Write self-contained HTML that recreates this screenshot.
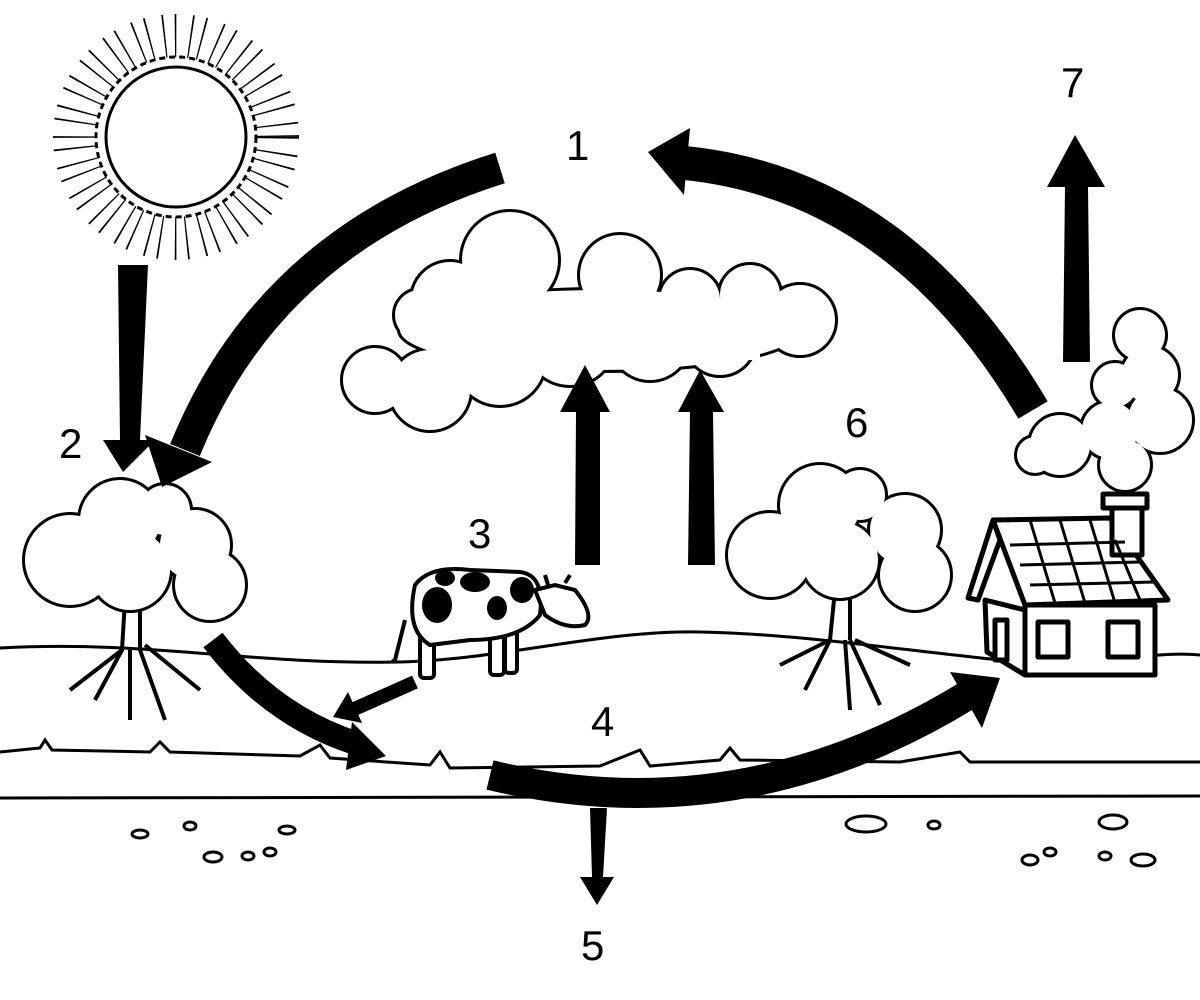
<!DOCTYPE html>
<html><head><meta charset="utf-8"><style>
html,body{margin:0;padding:0;background:#fff;width:1200px;height:1000px;overflow:hidden}
text{font-family:"Liberation Sans",sans-serif;font-size:42px;fill:#000}
</style></head><body>
<svg width="1200" height="1000" viewBox="0 0 1200 1000" xmlns="http://www.w3.org/2000/svg">
<!-- Sun -->
<circle cx="176" cy="137" r="95" fill="none" stroke="#000" stroke-width="56" stroke-dasharray="1.4 13 1.4 9"/>
<circle cx="176" cy="137" r="80" fill="#fff" stroke="#000" stroke-width="3" stroke-dasharray="6 4"/>
<circle cx="176" cy="137" r="70" fill="#fff" stroke="#000" stroke-width="3"/>

<!-- Ground lines -->
<path d="M0,648 C150,640 250,665 400,662 C500,660 600,630 700,632 C800,634 900,650 1000,660 C1100,668 1150,650 1200,655" fill="none" stroke="#000" stroke-width="3"/>
<path d="M0,752 L40,748 L45,740 L52,750 L150,752 L160,742 L170,752 L300,756 L320,745 L330,758 L430,765 L440,752 L450,768 L600,766 L640,750 L650,766 L720,760 L730,748 L740,760 L900,762 L960,752 L970,762 L1200,762" fill="none" stroke="#000" stroke-width="3"/>
<line x1="0" y1="798" x2="1200" y2="796" stroke="#000" stroke-width="3"/>
<g fill="none" stroke="#000" stroke-width="3">
<ellipse cx="140" cy="834" rx="8" ry="4"/><ellipse cx="190" cy="826" rx="6" ry="4"/><ellipse cx="287" cy="830" rx="8" ry="4"/>
<ellipse cx="213" cy="857" rx="9" ry="5"/><ellipse cx="248" cy="856" rx="6" ry="4"/><ellipse cx="270" cy="852" rx="6" ry="4"/>
<ellipse cx="866" cy="824" rx="20" ry="8"/><ellipse cx="934" cy="825" rx="6" ry="4"/><ellipse cx="1113" cy="822" rx="14" ry="7"/>
<ellipse cx="1030" cy="860" rx="8" ry="5"/><ellipse cx="1050" cy="852" rx="6" ry="4"/><ellipse cx="1105" cy="856" rx="6" ry="4"/><ellipse cx="1143" cy="860" rx="12" ry="6"/>
</g>

<!-- Cloud -->
<g stroke="#000" stroke-width="6" fill="#000">
<circle cx="510" cy="260" r="48"/><circle cx="450" cy="300" r="38"/><circle cx="420" cy="315" r="25"/><circle cx="620" cy="275" r="40"/>
<circle cx="690" cy="300" r="30"/><circle cx="750" cy="295" r="30"/><circle cx="800" cy="320" r="35"/><circle cx="375" cy="380" r="32"/>
<circle cx="430" cy="390" r="40"/><circle cx="500" cy="360" r="45"/><circle cx="570" cy="340" r="45"/><circle cx="650" cy="340" r="40"/><circle cx="720" cy="340" r="35"/>
<ellipse cx="600" cy="330" rx="200" ry="40"/>
</g>
<g fill="#fff">
<circle cx="510" cy="260" r="48"/><circle cx="450" cy="300" r="38"/><circle cx="420" cy="315" r="25"/><circle cx="620" cy="275" r="40"/>
<circle cx="690" cy="300" r="30"/><circle cx="750" cy="295" r="30"/><circle cx="800" cy="320" r="35"/><circle cx="375" cy="380" r="32"/>
<circle cx="430" cy="390" r="40"/><circle cx="500" cy="360" r="45"/><circle cx="570" cy="340" r="45"/><circle cx="650" cy="340" r="40"/><circle cx="720" cy="340" r="35"/>
<ellipse cx="600" cy="330" rx="200" ry="40"/>
<rect x="440" y="320" width="320" height="40"/>
</g>

<!-- Smoke -->
<g stroke="#000" stroke-width="6" fill="#000">
<circle cx="1140" cy="335" r="25"/><circle cx="1150" cy="375" r="28"/><circle cx="1115" cy="385" r="22"/><circle cx="1160" cy="420" r="32"/>
<circle cx="1110" cy="430" r="28"/><circle cx="1060" cy="445" r="30"/><circle cx="1035" cy="455" r="18"/><circle cx="1125" cy="465" r="25"/>
</g>
<g fill="#fff">
<circle cx="1140" cy="335" r="25"/><circle cx="1150" cy="375" r="28"/><circle cx="1115" cy="385" r="22"/><circle cx="1160" cy="420" r="32"/>
<circle cx="1110" cy="430" r="28"/><circle cx="1060" cy="445" r="30"/><circle cx="1035" cy="455" r="18"/><circle cx="1125" cy="465" r="25"/>
</g>

<!-- Tree 2 -->
<g fill="none" stroke="#000" stroke-width="4">
<path d="M125,600 L122,650 L70,690 M122,650 L95,700 M130,650 L130,720 M140,650 L165,720 M145,645 L200,690 M140,600 L140,650"/>
</g>
<g stroke="#000" stroke-width="6" fill="#000">
<circle cx="120" cy="520" r="40"/><circle cx="70" cy="560" r="45"/><circle cx="130" cy="570" r="40"/><circle cx="195" cy="545" r="35"/><circle cx="210" cy="585" r="35"/><circle cx="165" cy="510" r="25"/>
</g>
<g fill="#fff">
<circle cx="120" cy="520" r="40"/><circle cx="70" cy="560" r="45"/><circle cx="130" cy="570" r="40"/><circle cx="195" cy="545" r="35"/><circle cx="210" cy="585" r="35"/><circle cx="165" cy="510" r="25"/>
</g>
<!-- Tree 6 -->
<g fill="none" stroke="#000" stroke-width="4">
<path d="M835,590 L830,640 L780,665 M830,640 L805,690 M845,640 L850,710 M850,640 L880,705 M855,640 L910,665 M850,590 L850,640"/>
</g>
<g stroke="#000" stroke-width="6" fill="#000">
<circle cx="820" cy="505" r="40"/><circle cx="770" cy="555" r="42"/><circle cx="840" cy="560" r="38"/><circle cx="905" cy="530" r="35"/><circle cx="915" cy="575" r="35"/><circle cx="860" cy="495" r="25"/>
</g>
<g fill="#fff">
<circle cx="820" cy="505" r="40"/><circle cx="770" cy="555" r="42"/><circle cx="840" cy="560" r="38"/><circle cx="905" cy="530" r="35"/><circle cx="915" cy="575" r="35"/><circle cx="860" cy="495" r="25"/>
</g>

<!-- Cow -->
<g stroke="#000" stroke-width="4" fill="#fff">
<path d="M405,620 L395,660 L392,662" fill="none"/>
<rect x="420" y="630" width="14" height="48" rx="4"/><rect x="490" y="630" width="14" height="45" rx="4"/><rect x="505" y="625" width="12" height="48" rx="4"/>
<path d="M415,585 Q430,565 470,570 L520,572 Q545,575 540,615 Q520,640 470,640 L430,645 Q405,630 415,585 Z"/>
<path d="M535,590 L555,585 L575,590 Q595,615 585,625 Q565,630 545,615 Z"/>
<path d="M548,585 L545,575 M565,583 L570,575" />
</g>
<g fill="#000">
<ellipse cx="445" cy="578" rx="10" ry="8"/><ellipse cx="475" cy="582" rx="15" ry="10"/><ellipse cx="437" cy="605" rx="15" ry="18"/><ellipse cx="497" cy="608" rx="10" ry="12"/><ellipse cx="522" cy="590" rx="12" ry="13"/>
</g>

<!-- House -->
<g stroke="#000" stroke-width="5" fill="#fff" stroke-linejoin="round">
<polygon points="985,600 1025,610 1025,675 987,652"/>
<rect x="1025" y="605" width="130" height="70"/>
<polygon points="993,520 1110,518 1168,600 1025,605"/>
<polygon points="993,520 968,598 978,600 1000,540"/>
<rect x="1038" y="622" width="30" height="35"/><rect x="1108" y="622" width="30" height="35"/>
<rect x="995" y="620" width="12" height="40"/>
<rect x="1112" y="505" width="30" height="50"/><rect x="1103" y="494" width="44" height="14"/>
</g>
<g stroke="#000" stroke-width="3" fill="none">
<path d="M1010,545 L1125,542 M1020,565 L1140,562 M1030,585 L1155,582 M1030,520 L1055,603 M1060,520 L1085,603 M1090,520 L1115,603 M1115,540 L1140,600"/>
</g>

<!-- Arrows -->
<g fill="#000" stroke="none">
<polygon points="118,265 148,265 140,440 155,440 123,472 103,440 120,440"/>
<polygon points="1063,362 1090,362 1088,187 1105,187 1075,135 1047,187 1065,187"/>
<polygon points="575,565 600,565 600,412 610,412 585,365 560,412 576,412"/>
<polygon points="688,565 715,565 713,412 724,412 700,370 678,412 690,412"/>
<polygon points="590,808 607,808 603,877 614,877 597,905 580,877 592,877"/>
</g>
<g fill="none" stroke="#000">
<path d="M500,168 Q270,240 185,450" stroke-width="32"/>
<path d="M1033,410 Q900,185 685,163" stroke-width="34"/>
<path d="M490,775 Q740,835 968,695" stroke-width="30"/>
<path d="M213,640 Q270,715 355,743" stroke-width="24"/>
<path d="M415,682 L352,710" stroke-width="14"/>
</g>
<g fill="#000">
<polygon points="162,487 145,435 212,462"/>
<polygon points="648,152 690,128 684,195"/>
<polygon points="1000,678 950,672 982,728"/>
<polygon points="386,756 352,722 346,770"/>
<polygon points="333,717 348,692 362,723"/>
</g>

<!-- Labels -->
<text x="566" y="160">1</text>
<text x="59" y="458">2</text>
<text x="468" y="548">3</text>
<text x="591" y="736">4</text>
<text x="581" y="960">5</text>
<text x="845" y="437">6</text>
<text x="1061" y="97">7</text>
</svg>
</body></html>
